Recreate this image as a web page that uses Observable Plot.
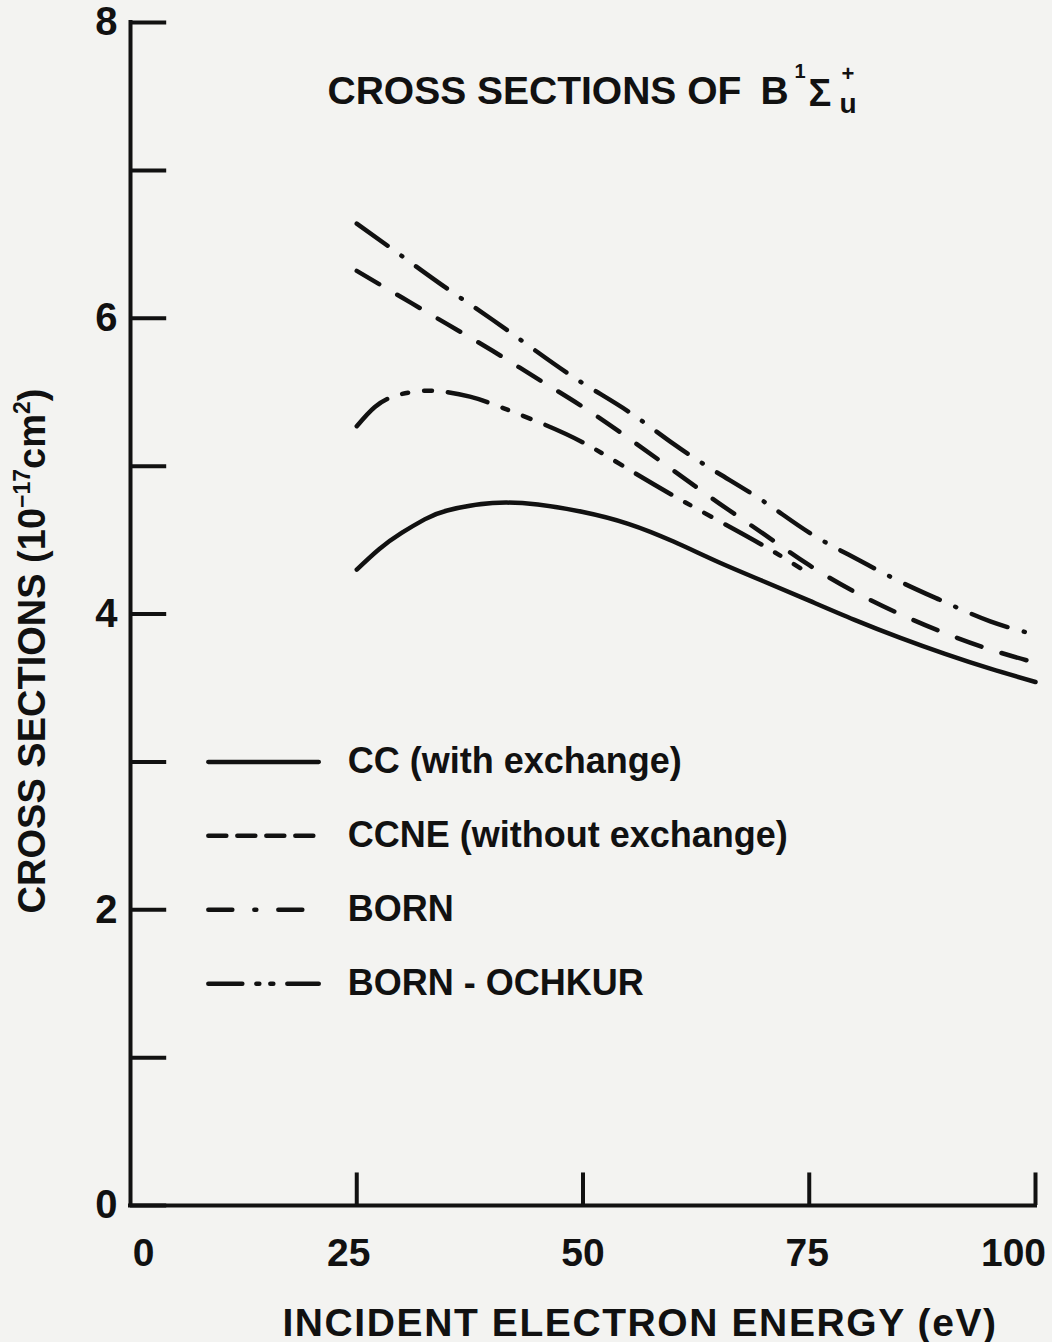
<!DOCTYPE html>
<html>
<head>
<meta charset="utf-8">
<script src="https://cdn.jsdelivr.net/npm/d3@7"></script>
<script src="https://cdn.jsdelivr.net/npm/@observablehq/plot@0.6"></script>
<style>
  html, body { margin: 0; padding: 0; background: #f3f3f1; }
  #chart svg { display: block; }
</style>
</head>
<body>
<div id="chart"></div>
<script>
// ---------- data ----------
const ccEnergies   = [25, 27.5, 30, 32.5, 35, 40, 45, 50, 55, 60, 65, 70, 75, 80, 85, 90, 95, 100];
const ccValues     = [4.30, 4.44, 4.55, 4.64, 4.70, 4.75, 4.74, 4.69, 4.61, 4.49, 4.35, 4.22, 4.09, 3.96, 3.84, 3.73, 3.63, 3.54];

const ccneEnergies = [25, 30, 35, 40, 45, 50, 55, 60, 65, 70, 75, 80, 85, 90, 95, 100];
const ccneValues   = [6.32, 6.14, 5.96, 5.78, 5.59, 5.40, 5.19, 4.97, 4.75, 4.54, 4.33, 4.15, 4.00, 3.87, 3.76, 3.67];

const bornEnergies = [25, 30, 35, 40, 45, 50, 55, 60, 65, 70, 75, 80, 85, 90, 95, 100];
const bornValues   = [6.64, 6.42, 6.20, 5.99, 5.77, 5.56, 5.37, 5.15, 4.95, 4.76, 4.55, 4.38, 4.22, 4.08, 3.95, 3.86];

const boEnergies   = [25, 27, 29, 31, 33, 35, 37.5, 40, 45, 50, 55, 60, 65, 70, 74];
const boValues     = [5.27, 5.40, 5.47, 5.50, 5.51, 5.50, 5.47, 5.42, 5.30, 5.16, 4.98, 4.80, 4.63, 4.46, 4.31];

const seriesNames  = ["CC (with exchange)", "CCNE (without exchange)", "BORN", "BORN - OCHKUR"];

const xTicks       = [0, 25, 50, 75, 100];
const xTickLabels  = ["0", "25", "50", "75", "100"];
const yTicks       = [0, 1, 2, 3, 4, 5, 6, 7, 8];
const yLabelTicks  = [0, 2, 4, 6, 8];
const yTickLabels  = ["0", "2", "4", "6", "8"];

// ---------- styles ----------
const ink = "#111";
const curveDash  = [null, "26,21", "38,17,1,17", "41,16,6,16,8,16"];
const legendDash = [null, "18,11", "24,22,2,22", "34,14,3,11,3,14"];
const xLabelShift = {0: 13, 25: -8, 50: 0, 75: -2, 100: -22};

const rows = (xs, ys) => xs.map((x, i) => ({x, y: ys[i]}));
const seriesData = [
  rows(ccEnergies, ccValues),
  rows(ccneEnergies, ccneValues),
  rows(bornEnergies, bornValues),
  rows(boEnergies, boValues)
];

const legendTop = 3.0, legendStep = 0.5;
const legendX1 = 8.6, legendX2 = 20.8, legendTextX = 24;

const marks = [];

// axes frame
marks.push(Plot.ruleX([0], {y1: 0, y2: 8, stroke: ink, strokeWidth: 4, strokeLinecap: "square"}));
marks.push(Plot.ruleY([0], {x1: 0, x2: 100, stroke: ink, strokeWidth: 4, strokeLinecap: "square"}));
// inward ticks
marks.push(Plot.ruleY(yTicks, {x1: 0, x2: 4, stroke: ink, strokeWidth: 4}));
marks.push(Plot.ruleX(xTicks.filter(d => d > 0), {y1: 0, y2: 0.22, stroke: ink, strokeWidth: 4}));

// tick labels
xTicks.forEach((t, i) => {
  marks.push(Plot.text([t], {
    x: d => d, y: 0, text: () => xTickLabels[i],
    dy: 33, dx: xLabelShift[t], lineAnchor: "top", textAnchor: "middle",
    fontSize: 39, fontWeight: "bold", fill: ink
  }));
});
marks.push(Plot.text(yLabelTicks, {
  x: 0, y: d => d, text: (d, i) => yTickLabels[i],
  dx: -13, textAnchor: "end", lineAnchor: "middle",
  fontSize: 40, fontWeight: "bold", fill: ink
}));

// curves
seriesData.forEach((data, i) => {
  marks.push(Plot.line(data, {
    x: "x", y: "y", curve: "natural", stroke: ink, strokeWidth: 4.5,
    strokeLinecap: "round", strokeLinejoin: "round",
    strokeDasharray: curveDash[i] || undefined
  }));
});

// legend
seriesNames.forEach((name, i) => {
  const ly = legendTop - i * legendStep;
  marks.push(Plot.link([ly], {
    x1: legendX1, x2: legendX2, y1: d => d, y2: d => d,
    stroke: ink, strokeWidth: 4.5, strokeLinecap: "round",
    strokeDasharray: legendDash[i] || undefined
  }));
  marks.push(Plot.text([ly], {
    x: legendTextX, y: d => d, text: () => name,
    textAnchor: "start", lineAnchor: "middle",
    fontSize: 36, fontWeight: "bold", fill: ink
  }));
});

// title pieces
const titleBase = {frameAnchor: "top-left", textAnchor: "start", lineAnchor: "bottom", fontWeight: "bold", fill: ink};
marks.push(Plot.text(["CROSS SECTIONS OF"], {...titleBase, dx: 197, dy: 81, fontSize: 39}));
marks.push(Plot.text(["B"], {...titleBase, dx: 630, dy: 81, fontSize: 39}));
marks.push(Plot.text(["1"], {...titleBase, dx: 664, dy: 55, fontSize: 20}));
marks.push(Plot.text(["Σ"], {...titleBase, dx: 678, dy: 83, fontSize: 38}));
marks.push(Plot.text(["+"], {...titleBase, dx: 711, dy: 58, fontSize: 22}));
marks.push(Plot.text(["u"], {...titleBase, dx: 709, dy: 90, fontSize: 28}));

// axis titles
marks.push(Plot.text(["CROSS SECTIONS (10"], {
  frameAnchor: "left", rotate: -90, dx: -86, dy: 37,
  textAnchor: "middle", lineAnchor: "bottom",
  fontSize: 38, fontWeight: "bold", fill: ink
}));
marks.push(Plot.text(["INCIDENT ELECTRON ENERGY (eV)"], {
  frameAnchor: "bottom", dx: 57, dy: 130,
  textAnchor: "middle", lineAnchor: "bottom",
  fontSize: 39, fontWeight: "bold", fill: ink
}));

const chart = Plot.plot({
  width: 1052,
  height: 1342,
  marginLeft: 130,
  marginRight: 17,
  marginTop: 22,
  marginBottom: 137,
  x: {domain: [0, 100], axis: null},
  y: {domain: [0, 8], axis: null},
  style: {background: "transparent", fontFamily: "'Liberation Sans', Arial, sans-serif", color: ink, overflow: "visible"},
  marks
});

document.getElementById("chart").appendChild(chart);

// superscripts in the y-axis title, and letter spacing of the x-axis title
d3.select(chart).selectAll("text")
  .filter(function () { return this.textContent === "CROSS SECTIONS (10"; })
  .each(function () {
    const t = d3.select(this);
    t.append("tspan").attr("font-size", 23).attr("dy", -15).text("−17");
    t.append("tspan").attr("dy", 15).text("cm");
    t.append("tspan").attr("font-size", 23).attr("dy", -15).text("2");
    t.append("tspan").attr("dy", 15).text(")");
  });
d3.select(chart).selectAll("text")
  .filter(function () { return this.textContent === "INCIDENT ELECTRON ENERGY (eV)"; })
  .attr("letter-spacing", 1.6);
</script>
</body>
</html>
